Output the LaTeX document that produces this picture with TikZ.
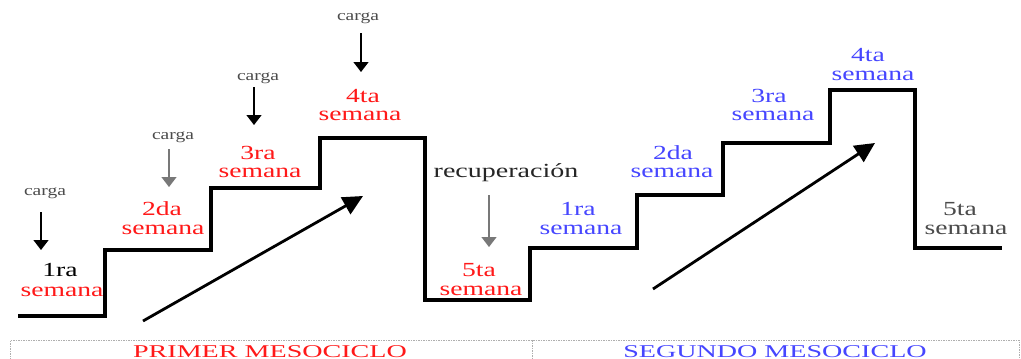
\documentclass[tikz,border=0pt]{standalone}
\usepackage{fontspec}
\setmainfont{Liberation Serif}
\newfontfamily\wkfont{Liberation Serif}[FakeStretch=1.38]
\newfontfamily\cgfont{Liberation Serif}[FakeStretch=1.3]
\newfontfamily\recfont{Liberation Serif}[FakeStretch=1.4]
\newfontfamily\mesofont{Liberation Serif}[FakeStretch=1.56]
\usetikzlibrary{arrows.meta}
\definecolor{wred}{RGB}{255,25,25}
\definecolor{wblue}{RGB}{70,70,255}
\definecolor{cgray}{RGB}{75,75,75}
\definecolor{agray}{RGB}{120,120,120}
\definecolor{boxgray}{RGB}{175,175,175}
\tikzset{
  lbl/.style={inner sep=0pt, anchor=base},
  wk/.style={lbl, font=\wkfont\fontsize{20}{20}\selectfont},
  cg/.style={lbl, font=\cgfont\fontsize{15}{15}\selectfont, text=cgray},
  stair/.style={line width=4pt, line join=miter, line cap=rect},
  uparrow/.style={line width=2.8pt, -{Triangle[length=20pt,width=19pt]}},
  downarrow/.style={line width=1.4pt, -{Triangle[length=10pt,width=15pt]}},
  meso/.style={lbl, font=\mesofont\fontsize{18}{18}\selectfont},
}
\begin{document}
\begin{tikzpicture}[x=1pt,y=-1pt]
\useasboundingbox (0,0) rectangle (1021,359);
\fill[white] (0,0) rectangle (1021,359);

% staircase
\draw[stair] (20,316) -- (105,316) -- (105,250) -- (211,250) -- (211,188)
  -- (320,188) -- (320,138) -- (425,138) -- (425,300) -- (530,300)
  -- (530,248) -- (637,248) -- (637,195) -- (723,195) -- (723,143)
  -- (830,143) -- (830,90) -- (915,90) -- (915,248) -- (1000,248);

% first mesocycle labels
\node[wk, text=black] (a1n) at (60,276.5) {1ra};
\node[wk, text=wred]  (a1s) at (62,296) {semana};
\node[wk, text=wred]  (a2n) at (162,215.5) {2da};
\node[wk, text=wred]  (a2s) at (163,234.6) {semana};
\node[wk, text=wred]  (a3n) at (258,159.5) {3ra};
\node[wk, text=wred]  (a3s) at (260,177.6) {semana};
\node[wk, text=wred]  (a4n) at (363,102.5) {4ta};
\node[wk, text=wred]  (a4s) at (360,120.6) {semana};
\node[wk, text=wred]  (a5n) at (479,276.5) {5ta};
\node[wk, text=wred]  (a5s) at (481,295.6) {semana};

% second mesocycle labels
\node[wk, text=wblue] (b1n) at (578,215.5) {1ra};
\node[wk, text=wblue] (b1s) at (581,234.6) {semana};
\node[wk, text=wblue] (b2n) at (673,159.5) {2da};
\node[wk, text=wblue] (b2s) at (672,177.6) {semana};
\node[wk, text=wblue] (b3n) at (769,102.5) {3ra};
\node[wk, text=wblue] (b3s) at (773,120.6) {semana};
\node[wk, text=wblue] (b4n) at (868,61.5) {4ta};
\node[wk, text=wblue] (b4s) at (873,80.6) {semana};
\node[wk, text=cgray] (b5n) at (960,215.5) {5ta};
\node[wk, text=cgray] (b5s) at (966,234.6) {semana};

% carga labels
\node[cg] (c1) at (45,195) {carga};
\node[cg] (c2) at (173,139) {carga};
\node[cg] (c3) at (258,80.5) {carga};
\node[cg] (c4) at (358,20.5) {carga};
\node[lbl, font=\recfont\fontsize{20}{20}\selectfont, text=black!85] (rec) at (506,177) {recuperación};

% arrow end points
\coordinate (c1t) at (41,250);
\coordinate (c2t) at (169,187);
\coordinate (c3t) at (254,125);
\coordinate (c4t) at (361,72);
\coordinate (rect) at (489,247);

\draw[downarrow, black] (c1t |- 0,212) -- (c1t);
\draw[downarrow, agray, line width=1.2pt] (c2t |- 0,149) -- (c2t);
\draw[downarrow, black] (c3t |- 0,87) -- (c3t);
\draw[downarrow, black] (c4t |- 0,33) -- (c4t);
\draw[downarrow, agray, line width=1.2pt] (rect |- 0,195) -- (rect);

% diagonal arrows
\coordinate (d1s) at (143,321);
\coordinate (d1e) at (363,196);
\coordinate (d2s) at (653,289);
\coordinate (d2e) at (875,143);
\draw[uparrow] (d1s) -- (d1e);
\draw[uparrow] (d2s) -- (d2e);

% bottom dashed box
\draw[boxgray, line width=1pt, dash pattern=on 1.5pt off 1pt] (10,362) -- (10,340) -- (1019,340) -- (1019,362);
\draw[boxgray, line width=1pt, dash pattern=on 1.5pt off 1pt] (532,340) -- (532,362);
\node[meso, text=wred] (m1) at (270,357) {PRIMER MESOCICLO};
\node[meso, text=wblue] (m2) at (775,357) {SEGUNDO MESOCICLO};
\end{tikzpicture}
\end{document}
